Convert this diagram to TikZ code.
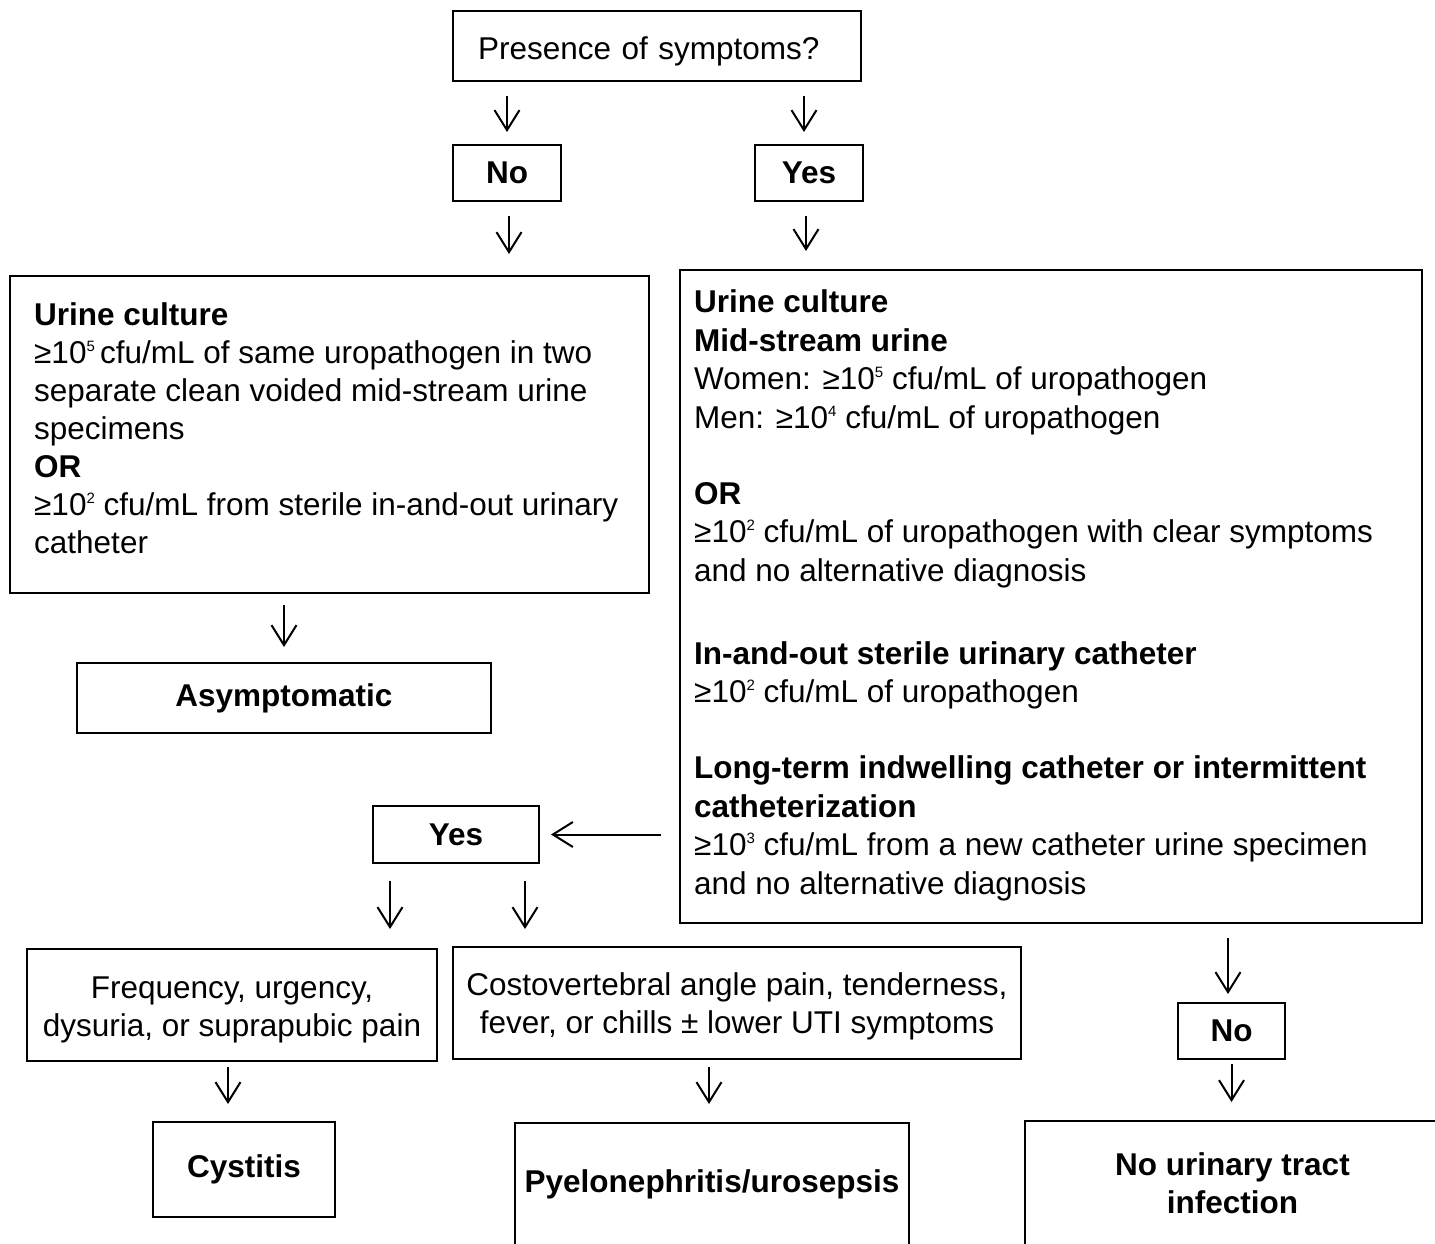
\documentclass[tikz,border=0pt]{standalone}
\usepackage{fontspec}
\setmainfont{Liberation Sans}
\usetikzlibrary{arrows.meta,calc}
\newcommand\spx[1]{\raisebox{12pt}{\fontsize{15}{15}\selectfont #1}}
\begin{document}
\begin{tikzpicture}[x=1pt,y=-1pt,
  font=\fontsize{31.5}{38}\selectfont,
  box/.style={draw=black, line width=2pt, inner sep=0pt, align=center},
  bbox/.style={box, font=\fontsize{31.5}{38}\selectfont\bfseries},
  txt/.style={inner sep=0pt, anchor=north west, align=left},
  arr/.style={draw=black, line width=2pt, -{Straight Barb[length=20pt,width=25pt]}}]
\useasboundingbox (0,0) rectangle (1435,1243);
% boxes
\node[box, minimum width=408pt, minimum height=70pt, text width=358pt, inner xsep=25pt, align=left] (top) at (657,46) {\raisebox{0pt}[26.5pt][0pt]{Presence of symptoms?}};
\node[bbox, minimum width=108pt, minimum height=56pt] (No1) at (507,173) {No};
\node[bbox, minimum width=108pt, minimum height=56pt] (Yes1) at (809,173) {Yes};
\node[box, minimum width=639pt, minimum height=317pt] (L) at (329.5,434.5) {};
\node[txt, font=\fontsize{31.5}{38}\selectfont] (Ltxt) at ($(L.north west)+(25,27)$) {\textbf{Urine culture}\\
≥10\spx{5}\,cfu/mL of same uropathogen in two\\
separate clean voided mid-stream urine\\
specimens\\
\textbf{OR}\\
≥10\spx{2} cfu/mL from sterile in-and-out urinary\\
catheter};
\node[box, minimum width=742pt, minimum height=653pt] (R) at (1051,596.5) {};
\node[txt, font=\fontsize{31.5}{38.5}\selectfont] (Rtxt) at ($(R.north west)+(15,20.5)$) {\textbf{Urine culture}\\
\textbf{Mid-stream urine}\\
Women: ≥10\spx{5} cfu/mL of uropathogen\\
Men: ≥10\spx{4} cfu/mL of uropathogen\\[37.5pt]
\textbf{OR}\\
≥10\spx{2} cfu/mL of uropathogen with clear symptoms\\
and no alternative diagnosis\\[44.5pt]
\textbf{In-and-out sterile urinary catheter}\\
≥10\spx{2} cfu/mL of uropathogen\\[37.5pt]
\textbf{Long-term indwelling catheter or intermittent}\\
\textbf{catheterization}\\
≥10\spx{3} cfu/mL from a new catheter urine specimen\\
and no alternative diagnosis};
\node[bbox, minimum width=414pt, minimum height=70pt] (Asym) at (284,698) {Asymptomatic};
\node[bbox, minimum width=166pt, minimum height=57pt] (Yes2) at (456,834.5) {Yes};
\node[box, minimum width=410pt, minimum height=112pt] (Freq) at (232,1005) {\raisebox{0pt}[52pt][30pt]{\begin{tabular}{@{}c@{}}Frequency, urgency,\\dysuria, or suprapubic pain\end{tabular}}};
\node[box, minimum width=568pt, minimum height=112pt] (Costo) at (737,1003) {\raisebox{0pt}[50pt][30pt]{\begin{tabular}{@{}c@{}}Costovertebral angle pain, tenderness,\\fever, or chills ± lower UTI symptoms\end{tabular}}};
\node[bbox, minimum width=107pt, minimum height=56pt] (No3) at (1231.5,1031) {No};
\node[bbox, minimum width=182pt, minimum height=95pt] (Cyst) at (244,1169.5) {Cystitis};
\node[bbox, minimum width=394pt, minimum height=122pt] (Pyelo) at (712,1184) {Pyelonephritis/urosepsis};
\node[bbox, minimum width=415pt, minimum height=124pt] (NoUTI) at (1232.5,1183) {No urinary tract\\infection};
% arrows
\draw[arr, shorten <=14pt, shorten >=12pt] (top.south -| No1.north) -- (No1.north);
\draw[arr, shorten <=14pt, shorten >=12pt] ($(top.south -| Yes1.north)+(-5,0)$) -- ($(Yes1.north)+(-5,0)$);
\draw[arr, shorten <=14pt, shorten >=21pt] ($(No1.south)+(2,0)$) -- ($(No1.south |- L.north)+(2,0)$);
\draw[arr, shorten <=14pt, shorten >=18pt] ($(Yes1.south)+(-3,0)$) -- ($(Yes1.south |- R.north)+(-3,0)$);
\draw[arr, shorten <=11pt, shorten >=15pt] (L.south -| Asym.north) -- (Asym.north);
\draw[arr, shorten <=18pt, shorten >=11pt] (R.west |- Yes2.east) -- (Yes2.east);
\coordinate (ya) at ($(Yes2.south west)+(18,0)$);
\coordinate (yb) at ($(Yes2.south east)+(-15,0)$);
\draw[arr, shorten <=17pt, shorten >=19pt] (ya) -- (ya |- Freq.north);
\draw[arr, shorten <=17pt, shorten >=17pt] (yb) -- (yb |- Costo.north);
\coordinate (fa) at ($(Freq.south)+(-4,0)$);
\draw[arr, shorten <=5pt, shorten >=17pt] (fa) -- (fa |- Cyst.north);
\coordinate (ca) at ($(Costo.south)+(-28,0)$);
\draw[arr, shorten <=7pt, shorten >=18pt] (ca) -- (ca |- Pyelo.north);
\coordinate (ra) at ($(R.south -| No3.north)+(-3.5,0)$);
\draw[arr, shorten <=14pt, shorten >=8pt] (ra) -- (ra |- No3.north);
\draw[arr, shorten <=4pt, shorten >=18pt] (No3.south) -- (No3.south |- NoUTI.north);
\end{tikzpicture}
\end{document}
